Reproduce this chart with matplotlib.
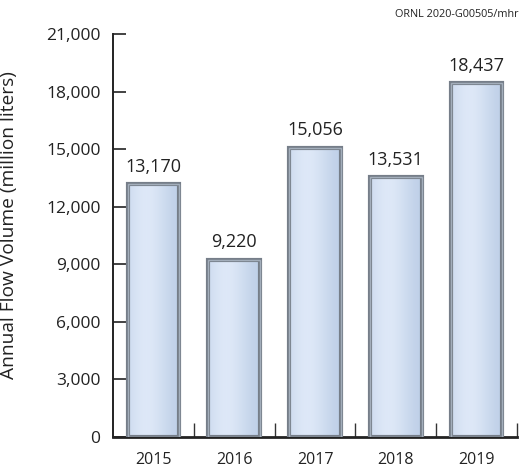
import matplotlib
matplotlib.use('Agg')
import matplotlib.pyplot as plt
import numpy as np
from matplotlib.patches import Rectangle
from matplotlib.ticker import FuncFormatter

years = ['2015', '2016', '2017', '2018', '2019']
volumes = [13170, 9220, 15056, 13531, 18437]

plt.rcParams['font.family'] = ['Open Sans', 'DejaVu Sans']

fig = plt.figure(figsize=(5.24, 4.69), dpi=100)
ax = fig.add_axes([0.2157, 0.0682, 0.7709, 0.8593])

x = np.arange(len(years))
width = 0.64

# horizontal gradient for the bar fill, lighter towards the left-centre
t = np.linspace(0, 1, 64)
light = np.array([0.87, 0.91, 0.97])
dark = np.array([0.73, 0.80, 0.90])
w = np.exp(-((t - 0.35) / 0.45) ** 2)
grad = dark[None, :] + (light - dark)[None, :] * w[:, None]
grad = grad[None, :, :]

for xi, v in zip(x, volumes):
    x0, x1 = xi - width / 2, xi + width / 2
    ax.imshow(grad, extent=[x0, x1, 0, v], aspect='auto', zorder=2,
              interpolation='bicubic')
    # bevelled frame
    ax.add_patch(Rectangle((x0, 0), width, v, fill=False,
                           edgecolor='#767e89', linewidth=3.0, zorder=3))
    ax.add_patch(Rectangle((x0, 0), width, v, fill=False,
                           edgecolor='#a3aebb', linewidth=1.0, zorder=3))
    ax.text(xi, v + 450, '{:,}'.format(v), ha='center', va='bottom',
            fontsize=13, color='#222222')

ax.set_xlim(-0.5, 4.5)
ax.set_ylim(0, 21000)
ax.set_yticks(np.arange(0, 21001, 3000))
ax.yaxis.set_major_formatter(FuncFormatter(lambda v, p: '{:,}'.format(int(v))))
ax.set_xticks(x)
ax.set_xticklabels(years)
ax.set_xticks(np.arange(0.5, 4.6, 1), minor=True)

ax.tick_params(axis='y', direction='in', length=9, width=1.2, pad=9,
               labelsize=12.5, colors='#222222')
ax.tick_params(axis='x', which='major', length=0, pad=10.5, labelsize=11.5,
               colors='#222222')
ax.tick_params(axis='x', which='minor', direction='in', length=10, width=1.0,
               color='#333333')

for s in ['top', 'right']:
    ax.spines[s].set_visible(False)
ax.spines['left'].set_linewidth(1.4)
ax.spines['bottom'].set_linewidth(2.0)
ax.spines['left'].set_color('#222222')
ax.spines['bottom'].set_color('#222222')

ax.set_ylabel('Annual Flow Volume (million liters)', fontsize=13.8,
              color='#222222')
ax.yaxis.set_label_coords(-0.235, 0.525)

fig.text(0.99, 0.97, 'ORNL 2020-G00505/mhr', ha='right', va='center',
         fontsize=7.8, color='#222222')

fig.savefig('out.png', dpi=100)
